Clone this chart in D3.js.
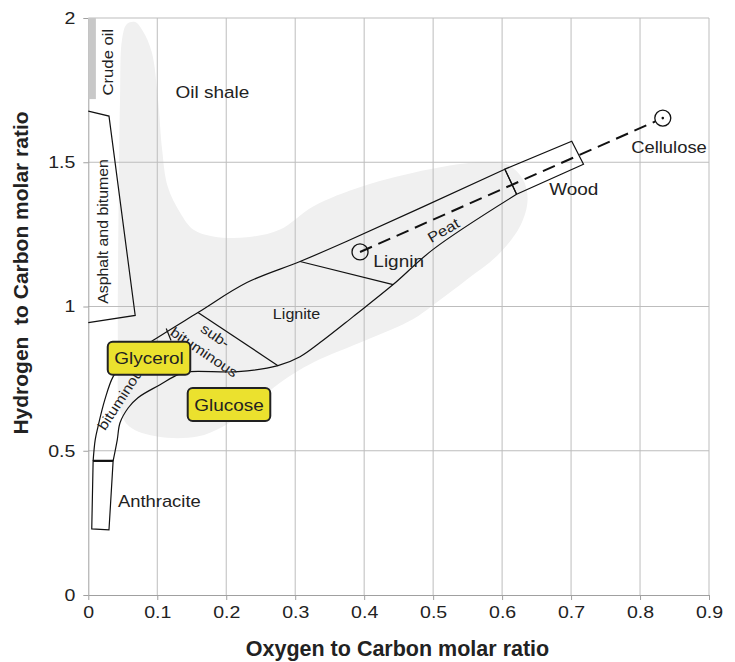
<!DOCTYPE html>
<html>
<head>
<meta charset="utf-8">
<script src="https://cdn.jsdelivr.net/npm/d3@7/dist/d3.min.js"></script>
<style>
  body { margin: 0; background: #fff; }
  text { font-family: "Liberation Sans", Arial, sans-serif; fill: #222; }
</style>
</head>
<body>
<svg id="chart" width="735" height="662"></svg>
<script>
// Axis ticks
const xTicks = [0, 0.1, 0.2, 0.3, 0.4, 0.5, 0.6, 0.7, 0.8, 0.9];
const yTicks = [0, 0.5, 1, 1.5, 2];

// Grey envelope of natural fuels (O/C, H/C)
const envelope = [
  [0.056, 1.979], [0.068, 1.986], [0.079, 1.955], [0.092, 1.882], [0.101, 1.719],
  [0.107, 1.545], [0.115, 1.417], [0.133, 1.326], [0.152, 1.267], [0.181, 1.243],
  [0.230, 1.240], [0.278, 1.267], [0.326, 1.347], [0.398, 1.417], [0.495, 1.476],
  [0.568, 1.500], [0.607, 1.493], [0.630, 1.441], [0.637, 1.372], [0.626, 1.278],
  [0.592, 1.174], [0.549, 1.094], [0.505, 1.014], [0.470, 0.955], [0.404, 0.885],
  [0.326, 0.806], [0.278, 0.736], [0.230, 0.642], [0.195, 0.583], [0.158, 0.549],
  [0.100, 0.549], [0.060, 0.583], [0.046, 0.642], [0.043, 0.851], [0.044, 1.372],
  [0.046, 1.719], [0.049, 1.927]
];

// Crude oil bar: [x0, x1, y0, y1]
const crudeOil = [0, 0.011, 1.719, 2.0];

// Asphalt and bitumen outline
const asphalt = [[0, 1.677], [0.030, 1.660], [0.068, 0.969], [0, 0.944]];

// Coal band boundaries
const coalUpper = [
  [0.007, 0.465], [0.010, 0.538], [0.014, 0.583], [0.024, 0.677], [0.036, 0.757],
  [0.053, 0.809], [0.075, 0.851], [0.091, 0.878], [0.159, 0.979], [0.230, 1.083],
  [0.307, 1.156], [0.375, 1.226], [0.604, 1.476]
];
const coalLower = [
  [0.036, 0.465], [0.042, 0.538], [0.046, 0.597], [0.058, 0.649], [0.072, 0.684],
  [0.104, 0.729], [0.130, 0.764], [0.147, 0.774], [0.217, 0.774], [0.275, 0.795],
  [0.307, 0.826], [0.336, 0.875], [0.384, 0.965], [0.442, 1.076], [0.500, 1.198],
  [0.621, 1.389]
];
const dividers = [
  [[0.113, 0.924], [0.120, 0.882]],   // bituminous / sub-bituminous
  [[0.159, 0.979], [0.275, 0.795]],   // sub-bituminous / lignite
  [[0.307, 1.156], [0.442, 1.076]],   // lignite / peat
  [[0.604, 1.476], [0.621, 1.389]]    // peat / wood
];
const anthracite = [[0.007, 0.465], [0.036, 0.465], [0.030, 0.226], [0.005, 0.229]];
const wood = [[0.604, 1.476], [0.701, 1.573], [0.718, 1.493], [0.621, 1.389]];

// Biomass components
const lignin = [0.394, 1.189];
const cellulose = [0.833, 1.653];

// Text labels [text, x, y, rotation, size]
const labels = [
  ["Crude oil", 0.028, 1.847, -90, 14.5],
  ["Asphalt and bitumen", 0.021, 1.260, -90, 13.8],
  ["Oil shale", 0.180, 1.743, 0, 16.5],
  ["Lignin", 0.450, 1.156, 0, 16.5],
  ["Peat", 0.515, 1.264, -30, 14.5],
  ["Wood", 0.704, 1.406, 0, 16.5],
  ["Cellulose", 0.842, 1.550, 0, 16],
  ["Lignite", 0.302, 0.972, 0, 14],
  ["sub-", 0.184, 0.899, 34, 14],
  ["bituminous", 0.168, 0.842, 34, 14],
  ["bituminous", 0.049, 0.690, -57, 14],
  ["Anthracite", 0.103, 0.323, 0, 16]
];

// Highlighted compounds
const compounds = [["Glycerol", 0.088, 0.821], ["Glucose", 0.204, 0.660]];

const width = 735, height = 662;
const margin = { top: 18, right: 26, bottom: 67, left: 88.3 };
const stretch = 1.15;   // reference type is set slightly wide
const svg = d3.select('#chart');

const x = d3.scaleLinear().domain([0, 0.9]).range([margin.left, width - margin.right]);
const y = d3.scaleLinear().domain([0, 2]).range([height - margin.bottom, margin.top]);

const line = d3.line().x(d => x(d[0])).y(d => y(d[1]));
const smooth = d3.line().x(d => x(d[0])).y(d => y(d[1])).curve(d3.curveCatmullRom.alpha(0.5));

// envelope
svg.append('path')
  .attr('d', d3.line().x(d => x(d[0])).y(d => y(d[1])).curve(d3.curveCatmullRomClosed.alpha(0.5))(envelope))
  .attr('fill', '#f0f0f0');

// grid
svg.append('g').selectAll('line').data(xTicks.slice(1)).join('line')
  .attr('x1', d => x(d)).attr('x2', d => x(d))
  .attr('y1', y(0)).attr('y2', y(2))
  .attr('stroke', '#bdbdbd').attr('stroke-width', 1);
svg.append('g').selectAll('line').data(yTicks.slice(1)).join('line')
  .attr('x1', x(0)).attr('x2', x(0.9))
  .attr('y1', d => y(d)).attr('y2', d => y(d))
  .attr('stroke', '#bdbdbd').attr('stroke-width', 1);

// axes
const xAxis = svg.append('g')
  .attr('transform', `translate(0,${y(0)})`)
  .call(d3.axisBottom(x).tickValues(xTicks).tickSize(5).tickSizeOuter(0).tickPadding(6).tickFormat(d3.format('')));
const yAxis = svg.append('g')
  .attr('transform', `translate(${x(0)},0)`)
  .call(d3.axisLeft(y).tickValues(yTicks).tickSize(5).tickSizeOuter(0).tickPadding(8).tickFormat(d3.format('')));
[xAxis, yAxis].forEach(g => {
  g.select('.domain').attr('stroke', '#a0a0a0');
  g.selectAll('.tick line').attr('stroke', '#a0a0a0');
});
xAxis.selectAll('.tick text')
  .style('font-family', '"Liberation Sans", Arial, sans-serif')
  .style('font-size', '17px').attr('fill', '#222')
  .attr('transform', function () {
    const yy = +d3.select(this).attr('y');
    return `translate(0,${yy}) scale(${stretch},1) translate(0,${-yy})`;
  });
yAxis.selectAll('.tick text')
  .style('font-family', '"Liberation Sans", Arial, sans-serif')
  .style('font-size', '17px').attr('fill', '#222')
  .attr('transform', function () {
    const xx = +d3.select(this).attr('x');
    return `translate(${xx},0) scale(${stretch},1) translate(${-xx},0)`;
  });

// crude oil bar
svg.append('rect')
  .attr('x', x(crudeOil[0])).attr('width', x(crudeOil[1]) - x(crudeOil[0]))
  .attr('y', y(crudeOil[3])).attr('height', y(crudeOil[2]) - y(crudeOil[3]))
  .attr('fill', '#c8c8c8');

const ink = g => g.attr('fill', 'none').attr('stroke', '#111').attr('stroke-width', 1.2);

svg.append('path').attr('d', line(asphalt)).call(ink);
svg.append('path').attr('d', smooth(coalUpper)).call(ink);
svg.append('path').attr('d', smooth(coalLower)).call(ink);
dividers.forEach(dv => svg.append('path').attr('d', line(dv)).call(ink));
svg.append('path').attr('d', line(anthracite) + 'Z').call(ink);
svg.append('line')
  .attr('x1', x(anthracite[0][0])).attr('x2', x(anthracite[1][0]))
  .attr('y1', y(anthracite[0][1])).attr('y2', y(anthracite[1][1]))
  .attr('stroke', '#111').attr('stroke-width', 2.2);
svg.append('path').attr('d', line(wood) + 'Z').call(ink);

// lignin -> cellulose dashed line
const r = 8;
const dx = x(cellulose[0]) - x(lignin[0]), dy = y(cellulose[1]) - y(lignin[1]);
const len = Math.hypot(dx, dy);
svg.append('line')
  .attr('x1', x(lignin[0])).attr('y1', y(lignin[1]))
  .attr('x2', x(cellulose[0]) - dx / len * r).attr('y2', y(cellulose[1]) - dy / len * r)
  .attr('stroke', '#111').attr('stroke-width', 2).attr('stroke-dasharray', '13,7');
svg.selectAll('circle.comp').data([lignin, cellulose]).join('circle')
  .attr('class', 'comp')
  .attr('cx', d => x(d[0])).attr('cy', d => y(d[1])).attr('r', r)
  .attr('fill', 'none').attr('stroke', '#111').attr('stroke-width', 1.3);
svg.append('circle').attr('cx', x(cellulose[0])).attr('cy', y(cellulose[1])).attr('r', 1.3).attr('fill', '#111');

// labels
svg.append('g').selectAll('text').data(labels).join('text')
  .attr('transform', d => `translate(${x(d[1])},${y(d[2])}) rotate(${d[3]}) scale(${stretch},1)`)
  .attr('text-anchor', 'middle').attr('dy', '0.35em')
  .style('font-size', d => d[4] + 'px')
  .text(d => d[0]);

// compound boxes
const cg = svg.append('g').selectAll('g').data(compounds).join('g')
  .attr('transform', d => `translate(${x(d[1])},${y(d[2])})`);
const ct = cg.append('text')
  .attr('text-anchor', 'middle').attr('dy', '0.36em')
  .attr('transform', `scale(${stretch},1)`)
  .style('font-size', '16.5px')
  .text(d => d[0]);
cg.insert('rect', 'text')
  .each(function () {
    const w = this.parentNode.querySelector('text').getComputedTextLength() * stretch + 13;
    d3.select(this).attr('x', -w / 2).attr('width', w);
  })
  .attr('y', -16.5).attr('height', 33).attr('rx', 5)
  .attr('fill', '#ebe12e').attr('stroke', '#222').attr('stroke-width', 2);

// axis titles
svg.append('text')
  .attr('x', 397.5).attr('y', 656)
  .attr('text-anchor', 'middle')
  .style('font-size', '21.5px').style('font-weight', 'bold')
  .text('Oxygen to Carbon molar ratio');
svg.append('text')
  .attr('transform', 'translate(28,273) rotate(-90)')
  .attr('text-anchor', 'middle')
  .style('font-size', '21px').style('font-weight', 'bold')
  .style('white-space', 'pre')
  .text('Hydrogen  to Carbon molar ratio');
</script>
</body>
</html>
